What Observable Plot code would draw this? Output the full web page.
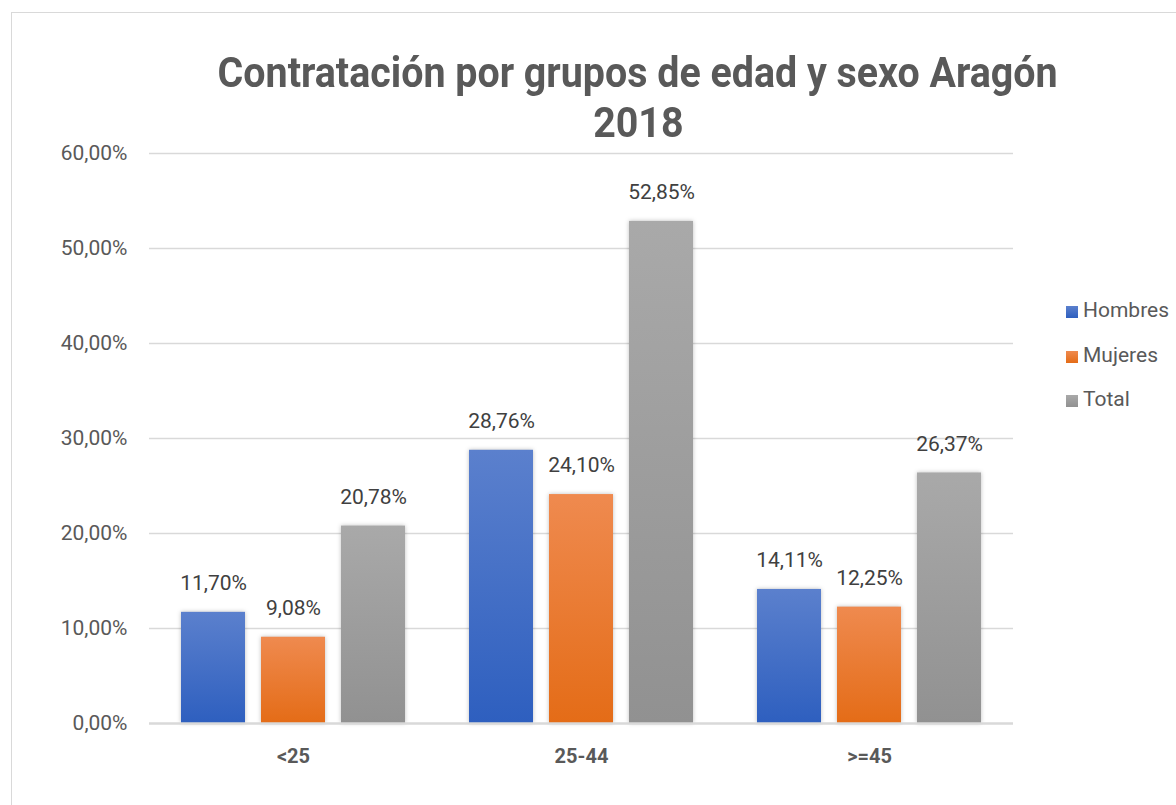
<!DOCTYPE html>
<html>
<head>
<meta charset="utf-8">
<script src="https://cdn.jsdelivr.net/npm/d3@7"></script>
<script src="https://cdn.jsdelivr.net/npm/@observablehq/plot@0.6"></script>
<style>
  html, body { margin: 0; padding: 0; background: #fff; overflow: hidden; width: 1176px; height: 805px; }
  #frame { position: absolute; left: 11px; top: 12px; width: 1300px; height: 900px; border: 1.5px solid #d9d9d9; box-sizing: border-box; }
  .title { position: absolute; left: 0; width: 1276px; text-align: center; font-family: Roboto, sans-serif; font-weight: 700; font-size: 43px; line-height: 50px; color: #595959; white-space: nowrap; }
  .title span { display: inline-block; transform-origin: 50% 50%; }
  #chart { position: absolute; left: 0; top: 140px; }
  #chart svg text { font-family: Roboto, sans-serif; }
  #chart [aria-label^="fx-axis"] text { font-weight: 700; font-size: 20px; fill: #595959; }
  #chart [aria-label^="y-axis"] text { font-size: 21px; fill: #595959; }
  #chart [aria-label="bar"] rect { filter: drop-shadow(0 0 2px rgba(0,0,0,0.25)); }
  .legend { position: absolute; left: 1066px; font-family: Roboto, sans-serif; font-size: 21px; color: #595959; height: 24px; line-height: 24px; white-space: nowrap; }
  .legend i { display: inline-block; width: 12px; height: 12px; margin-right: 5px; vertical-align: -1px; }
</style>
</head>
<body>
<div id="frame"></div>
<div class="title" style="top:47px"><span id="t1">Contratación por grupos de edad y sexo Aragón</span></div>
<div class="title" style="top:97px"><span id="t2">2018</span></div>
<div id="chart"></div>
<div class="legend" style="top:298px"><i style="background:linear-gradient(#5b80cd,#2e5fbf)"></i>Hombres</div>
<div class="legend" style="top:343px"><i style="background:linear-gradient(#ef8a4f,#e46c17)"></i>Mujeres</div>
<div class="legend" style="top:387px"><i style="background:linear-gradient(#a9a9a9,#919191)"></i>Total</div>
<script>
const groups = ["<25", "25-44", ">=45"];
const series = ["Hombres", "Mujeres", "Total"];
const hombres = [11.70, 28.76, 14.11];
const mujeres = [9.08, 24.10, 12.25];
const total = [20.78, 52.85, 26.37];
const yTicks = [0, 10, 20, 30, 40, 50, 60];

const gradients = {
  Hombres: ["#5b80cd", "#2e5fbf"],
  Mujeres: ["#ef8a4f", "#e46c17"],
  Total: ["#a9a9a9", "#919191"]
};

const valuesBySeries = {Hombres: hombres, Mujeres: mujeres, Total: total};
const data = [];
groups.forEach((g, i) => {
  series.forEach(s => data.push({group: g, series: s, value: valuesBySeries[s][i]}));
});

const fmt = v => v.toFixed(2).replace(".", ",") + "%";

const defsMark = () => {
  const defs = d3.create("svg:defs");
  series.forEach((s, i) => {
    const lg = defs.append("linearGradient").attr("id", "grad" + i)
      .attr("x1", 0).attr("y1", 0).attr("x2", 0).attr("y2", 1);
    lg.append("stop").attr("offset", "0%").attr("stop-color", gradients[s][0]);
    lg.append("stop").attr("offset", "100%").attr("stop-color", gradients[s][1]);
  });
  return defs.node();
};

const chart = Plot.plot({
  width: 1176,
  height: 660,
  marginLeft: 148,
  marginRight: 163,
  marginTop: 13,
  marginBottom: 77,
  facet: {data: data, x: "group"},
  fx: {domain: groups, padding: 0, label: null, tickSize: 0, tickPadding: 25},
  x: {domain: series, paddingInner: 0.2, paddingOuter: 0.4, axis: null},
  y: {domain: [0, 60], ticks: yTicks, tickFormat: fmt, tickSize: 0, tickPadding: 22, label: null},
  color: {domain: series, range: series.map((s, i) => `url(#grad${i})`)},
  marks: [
    defsMark,
    Plot.ruleY(yTicks.filter(t => t > 0), {stroke: "#d9d9d9", strokeWidth: 1.3}),
    Plot.barY(data, {x: "series", y: "value", fill: "series"}),
    Plot.ruleY([0], {stroke: "#d9d9d9", strokeWidth: 2.5}),
    Plot.text(data, {x: "series", y: "value", text: d => fmt(d.value), dy: -29, fontSize: 21, fill: "#404040"})
  ]
});
document.getElementById("chart").appendChild(chart);

// condense title to match the narrow bold face of the original
function fit(id, target) {
  const el = document.getElementById(id);
  const w = el.getBoundingClientRect().width;
  if (w > 0) el.style.transform = `scaleX(${target / w})`;
  return target / w;
}
const k = fit("t1", 840);
document.getElementById("t2").style.transform = `scaleX(${k})`;
</script>
</body>
</html>
